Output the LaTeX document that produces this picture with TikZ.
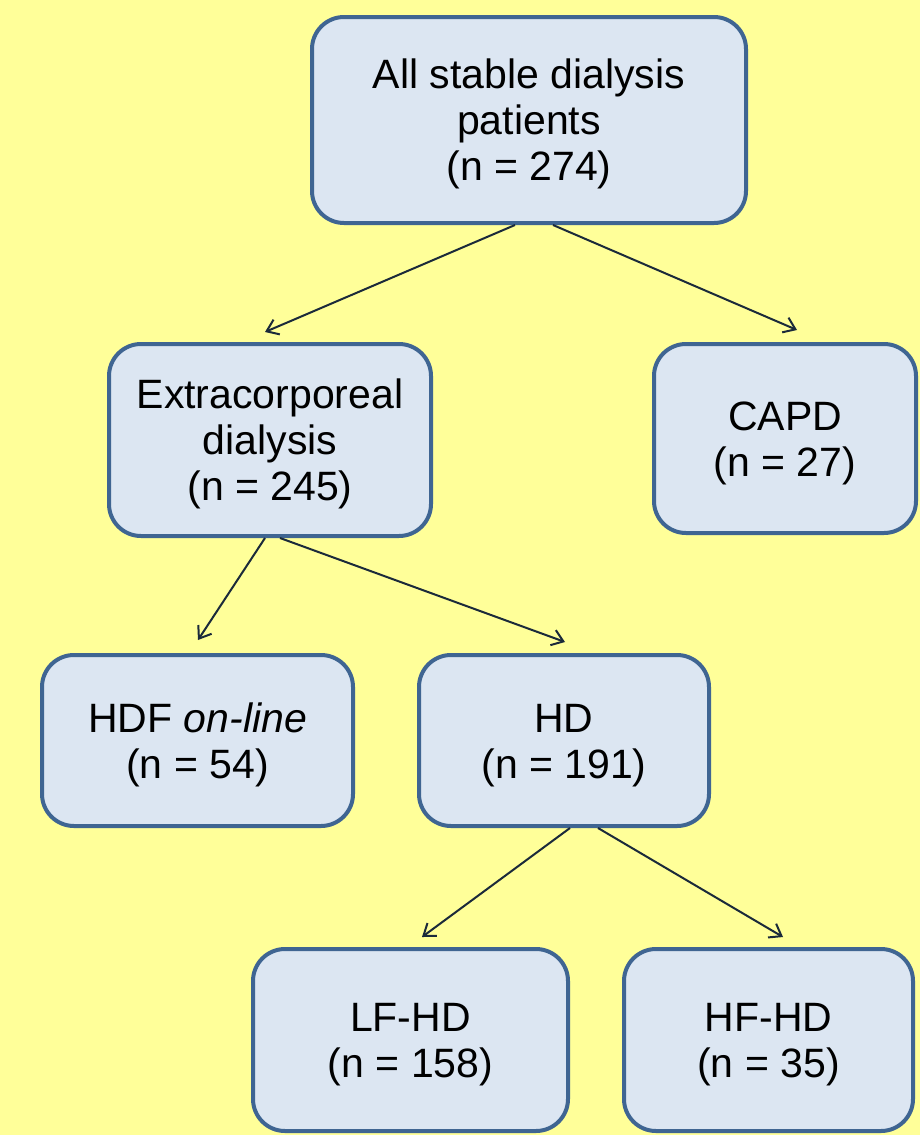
\documentclass[tikz,border=0pt]{standalone}
\usepackage{fontspec}
\setmainfont{Liberation Sans}
\usetikzlibrary{arrows.meta,calc}
\definecolor{bgyellow}{HTML}{FFFF99}
\definecolor{boxfill}{HTML}{DCE6F2}
\definecolor{boxline}{HTML}{3F6592}
\definecolor{arrcol}{HTML}{1B2A3A}
\newcommand\topstrut{\rule{0pt}{38pt}}
\begin{document}
\begin{tikzpicture}[x=1pt,y=-1pt,
 box/.style={draw=boxline, line width=4pt, fill=boxfill, rounded corners=32pt,
   align=center, inner sep=0pt, font=\fontsize{41}{46}\selectfont},
 conn/.style={draw=arrcol, line width=2pt,
   -{Straight Barb[length=11pt,width=16pt,line width=2pt]}}]
\fill[bgyellow] (0,0) rectangle (920,1135);
\useasboundingbox (0,0) rectangle (920,1135);
\node[box, minimum width=434pt, minimum height=206pt] (b1) at (529,120) {\topstrut All stable dialysis\\patients\\(n = 274)};
\node[box, minimum width=322pt, minimum height=192pt] (b2) at (270,440) {\topstrut Extracorporeal\\dialysis\\(n = 245)};
\node[box, minimum width=262pt, minimum height=189pt] (b3) at (785,438.5) {\topstrut CAPD\\(n = 27)};
\node[box, minimum width=311pt, minimum height=171pt] (b4) at (197.5,740.5) {\topstrut HDF \textit{on-line}\\(n = 54)};
\node[box, minimum width=290pt, minimum height=171pt] (b5) at (564,740.5) {\topstrut HD\\(n = 191)};
\node[box, minimum width=315pt, minimum height=182pt] (b6) at (410.5,1040) {\topstrut LF-HD\\(n = 158)};
\node[box, minimum width=289pt, minimum height=182pt] (b7) at (768.5,1040) {\topstrut HF-HD\\(n = 35)};
\coordinate (t1) at (265,332);
\coordinate (t2) at (797,330);
\coordinate (t3) at (198,640);
\coordinate (t4) at (565,642);
\coordinate (t5) at (422,937);
\coordinate (t6) at (783,937);
\draw[conn] ($(b1.south)+(-14,0)$) -- (t1);
\draw[conn] ($(b1.south)+(24,0)$) -- (t2);
\draw[conn] ($(b2.south)+(-5,0)$) -- (t3);
\draw[conn] ($(b2.south)+(10,0)$) -- (t4);
\draw[conn] ($(b5.south)+(6,0)$) -- (t5);
\draw[conn] ($(b5.south)+(34,0)$) -- (t6);
\end{tikzpicture}
\end{document}
